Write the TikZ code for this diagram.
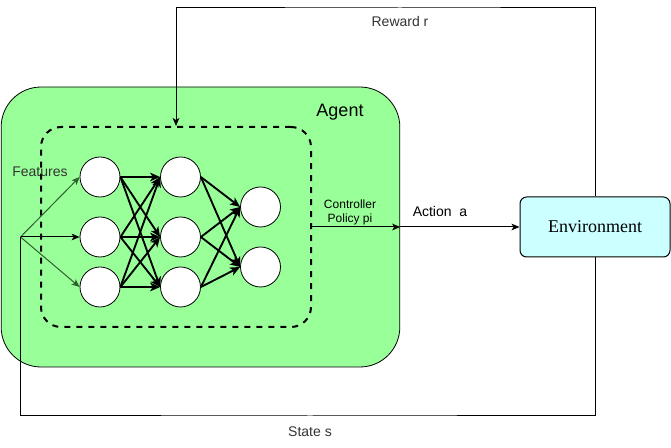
\documentclass[tikz,border=0pt]{standalone}
\usepackage{fontspec}
\setmainfont{Liberation Sans}
\newfontfamily\serifenv{Liberation Serif}
\usetikzlibrary{arrows.meta,positioning,calc}
\definecolor{agentgreen}{HTML}{99FF99}
\definecolor{envcyan}{HTML}{CCFFFF}
\definecolor{featgreen}{HTML}{2F5F2F}
\definecolor{txtgray}{HTML}{333333}
\tikzset{
  neuron/.style={circle,draw=black,fill=white,minimum size=30pt,inner sep=0pt,line width=0.6pt},
  tip/.style={-{Stealth[length=6pt,width=5pt,inset=1.5pt]}},
  nnwire/.style={-{Stealth[length=7.5pt,width=6.5pt,inset=2pt]},line width=1.4pt},
  wire/.style={line width=0.75pt},
  lbl/.style={font=\fontsize{10.5pt}{12pt}\selectfont,text=txtgray,inner sep=0pt},
}
\begin{document}
\begin{tikzpicture}[x=0.75pt,y=-0.75pt]
\useasboundingbox (0,0) rectangle (671,448);
% agent box
\node[draw=black,fill=agentgreen,rounded corners=30pt,line width=0.6pt,
      minimum width=299pt,minimum height=210pt,inner sep=0pt] (agent) at (200.5,227) {};
\node[font=\fontsize{13.5pt}{15pt}\selectfont,inner sep=0pt] (agentlbl) at (340,112) {Agent};
% dashed controller box
\node[draw=black,dashed,dash pattern=on 4.5pt off 4.5pt,line width=1.5pt,rounded corners=15pt,
      minimum width=202.5pt,minimum height=150pt,inner sep=0pt] (ctrl) at (176,227) {};
% environment
\node[draw=black,fill=envcyan,rounded corners=5pt,line width=0.75pt,
      minimum width=112.5pt,minimum height=45pt,inner sep=0pt,
      font=\serifenv\fontsize{13.5pt}{15pt}\selectfont] (env) at (595,227) {Environment};
% neurons
\node[neuron] (a1) at (100,177) {};
\node[neuron] (a2) at (100,237) {};
\node[neuron] (a3) at (100,287) {};
\node[neuron] (b1) at (180.5,177) {};
\node[neuron] (b2) at (180.5,237) {};
\node[neuron] (b3) at (180.5,287) {};
\node[neuron] (c1) at (260.5,207) {};
\node[neuron] (c2) at (260.5,267) {};
% layer connections
\foreach \i in {1,2,3}{
  \foreach \j in {1,2,3}{
    \draw[nnwire] (a\i.east) -- (b\j.west);
  }
  \foreach \k in {1,2}{
    \draw[nnwire] (b\i.east) -- (c\k.west);
  }
}
% features
\coordinate (fs) at (20.5,237);
\draw[tip,wire,draw=featgreen] (fs) -- (a1.west);
\draw[tip,wire] (fs) -- (a2.west);
\draw[tip,wire,draw=featgreen] (fs) -- (a3.west);
\node[lbl] (feat) at (40,172) {Features};
% action
\draw[tip,wire] (ctrl.east) -- (agent.east);
\draw[tip,wire] (agent.east) -- (env.west);
\node[font=\fontsize{9pt}{10.5pt}\selectfont,align=center,inner sep=0pt] (ctrllbl) at (350,212) {Controller\\Policy pi};
\node[font=\fontsize{10.5pt}{12pt}\selectfont,inner sep=0pt] (actlbl) at (440,212) {Action~~a};
% reward
\coordinate (rt) at (400,8);
\draw[tip,wire] (env.north) |- (rt) -| (ctrl.north);
\node[lbl] (rewlbl) at (400,22) {Reward r};
% state
\coordinate (sb) at (310,416);
\draw[wire] (env.south) |- (sb) -| (fs);
\node[lbl] (statelbl) at (310,432) {State s};
\end{tikzpicture}
\end{document}
